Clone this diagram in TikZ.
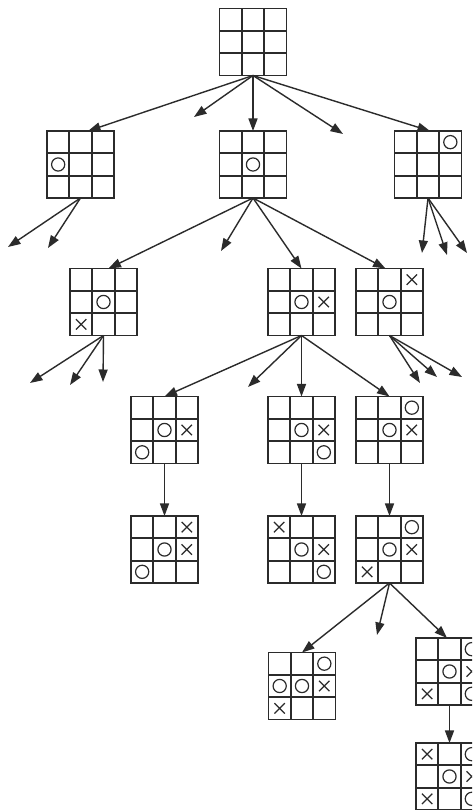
\documentclass[tikz,border=0pt]{standalone}
\usetikzlibrary{arrows.meta,calc}
\definecolor{ink}{HTML}{2B2B2B}
\def\cellsz{22.333}
\tikzset{
  board/.style={draw=ink, line width=1.8pt, minimum size=67pt, inner sep=0pt, outer sep=0pt},
  gridline/.style={draw=ink, line width=1.8pt},
  mk/.style={draw=ink, line width=1.2pt},
  arr/.style={draw=ink, line width=1.4pt, -{Triangle[length=12.5pt,width=9pt]}}
}
\newcommand{\tttboard}[3]{%
  \node[board] (#1) at (#2,#3) {};
  \draw[gridline] ($(#1.north west)+(\cellsz,0)$) -- ($(#1.south west)+(\cellsz,0)$);
  \draw[gridline] ($(#1.north west)+(2*\cellsz,0)$) -- ($(#1.south west)+(2*\cellsz,0)$);
  \draw[gridline] ($(#1.north west)+(0,-\cellsz)$) -- ($(#1.north east)+(0,-\cellsz)$);
  \draw[gridline] ($(#1.north west)+(0,-2*\cellsz)$) -- ($(#1.north east)+(0,-2*\cellsz)$);
}
\newcommand{\omk}[3]{\draw[mk] ($(#1.north west)+({(#2-0.5)*\cellsz},{-(#3-0.5)*\cellsz})$) circle[radius=6.6];}
\newcommand{\xmk}[3]{\draw[mk] ($(#1.north west)+({(#2-0.5)*\cellsz},{-(#3-0.5)*\cellsz})$) +(-5.2,-5.2) -- +(5.2,5.2) +(-5.2,5.2) -- +(5.2,-5.2);}
\begin{document}
\begin{tikzpicture}[x=1pt,y=1pt]
\useasboundingbox (0,0) rectangle (472,810);
\clip (0,0) rectangle (472,810);
\fill[white] (0,0) rectangle (472,810);

% boards
\tttboard{root}{253}{768}
\tttboard{bL}{80.5}{645.5}
\omk{bL}{1}{2}
\tttboard{bM}{253}{645.5}
\omk{bM}{2}{2}
\tttboard{bR}{428}{645.5}
\omk{bR}{3}{1}

\tttboard{cA}{103.5}{508}
\omk{cA}{2}{2}\xmk{cA}{1}{3}
\tttboard{cB}{301.5}{508}
\omk{cB}{2}{2}\xmk{cB}{3}{2}
\tttboard{cC}{389.5}{508}
\xmk{cC}{3}{1}\omk{cC}{2}{2}

\tttboard{dA}{164.5}{380}
\omk{dA}{2}{2}\xmk{dA}{3}{2}\omk{dA}{1}{3}
\tttboard{dB}{301.5}{380}
\omk{dB}{2}{2}\xmk{dB}{3}{2}\omk{dB}{3}{3}
\tttboard{dC}{389.5}{380}
\omk{dC}{3}{1}\omk{dC}{2}{2}\xmk{dC}{3}{2}

\tttboard{eA}{164.5}{260.5}
\xmk{eA}{3}{1}\omk{eA}{2}{2}\xmk{eA}{3}{2}\omk{eA}{1}{3}
\tttboard{eB}{301.5}{260.5}
\xmk{eB}{1}{1}\omk{eB}{2}{2}\xmk{eB}{3}{2}\omk{eB}{3}{3}
\tttboard{eC}{389.5}{260.5}
\omk{eC}{3}{1}\omk{eC}{2}{2}\xmk{eC}{3}{2}\xmk{eC}{1}{3}

\tttboard{fA}{302}{124}
\omk{fA}{3}{1}\omk{fA}{1}{2}\omk{fA}{2}{2}\xmk{fA}{3}{2}\xmk{fA}{1}{3}
\tttboard{fB}{449.5}{138.5}
\omk{fB}{3}{1}\omk{fB}{2}{2}\xmk{fB}{3}{2}\xmk{fB}{1}{3}\omk{fB}{3}{3}

\tttboard{gA}{449.5}{33.5}
\xmk{gA}{1}{1}\omk{gA}{3}{1}\omk{gA}{2}{2}\xmk{gA}{3}{2}\xmk{gA}{1}{3}\omk{gA}{3}{3}

% free arrow ends
\coordinate (r1) at (194,693);
\coordinate (r2) at (343,676);
\coordinate (l1) at (8,563);
\coordinate (l2) at (48,562);
\coordinate (m1) at (221,559);
\coordinate (q1) at (422,557);
\coordinate (q2) at (447,555);
\coordinate (q3) at (467,557);
\coordinate (a1) at (30,427);
\coordinate (a2) at (70,425);
\coordinate (a3) at (103,428);
\coordinate (b1) at (248,423);
\coordinate (c1) at (420,427);
\coordinate (c2) at (437,433);
\coordinate (c3) at (462,433);
\coordinate (d1) at (377,175);

% arrows
\draw[arr] (root.south) -- ($(bL.north)+(7.5,0)$);
\draw[arr] (root.south) -- (r1);
\draw[arr] (root.south) -- (bM.north);
\draw[arr] (root.south) -- (r2);
\draw[arr] (root.south) -- ($(bR.north)+(2,0)$);

\draw[arr] (bL.south) -- (l1);
\draw[arr] (bL.south) -- (l2);

\draw[arr] (bM.south) -- ($(cA.north)+(5,0)$);
\draw[arr] (bM.south) -- (m1);
\draw[arr] (bM.south) -- (cB.north);
\draw[arr] (bM.south) -- ($(cC.north)+(-4,0)$);

\draw[arr] (bR.south) -- (q1);
\draw[arr] (bR.south) -- (q2);
\draw[arr] (bR.south) -- (q3);

\draw[arr] (cA.south) -- (a1);
\draw[arr] (cA.south) -- (a2);
\draw[arr] (cA.south) -- (a3);

\draw[arr] (cB.south) -- (dA.north);
\draw[arr] (cB.south) -- (b1);
\draw[arr] (cB.south) -- (dB.north);
\draw[arr] (cB.south) -- (dC.north);

\draw[arr] (cC.south) -- (c1);
\draw[arr] (cC.south) -- (c2);
\draw[arr] (cC.south) -- (c3);

\draw[arr] (dA.south) -- (eA.north);
\draw[arr] (dB.south) -- (eB.north);
\draw[arr] (dC.south) -- (eC.north);

\draw[arr] (eC.south) -- (fA.north);
\draw[arr] (eC.south) -- (d1);
\draw[arr] (eC.south) -- ($(fB.north)+(-2.5,0)$);

\draw[arr] (fB.south) -- (gA.north);
\end{tikzpicture}
\end{document}
